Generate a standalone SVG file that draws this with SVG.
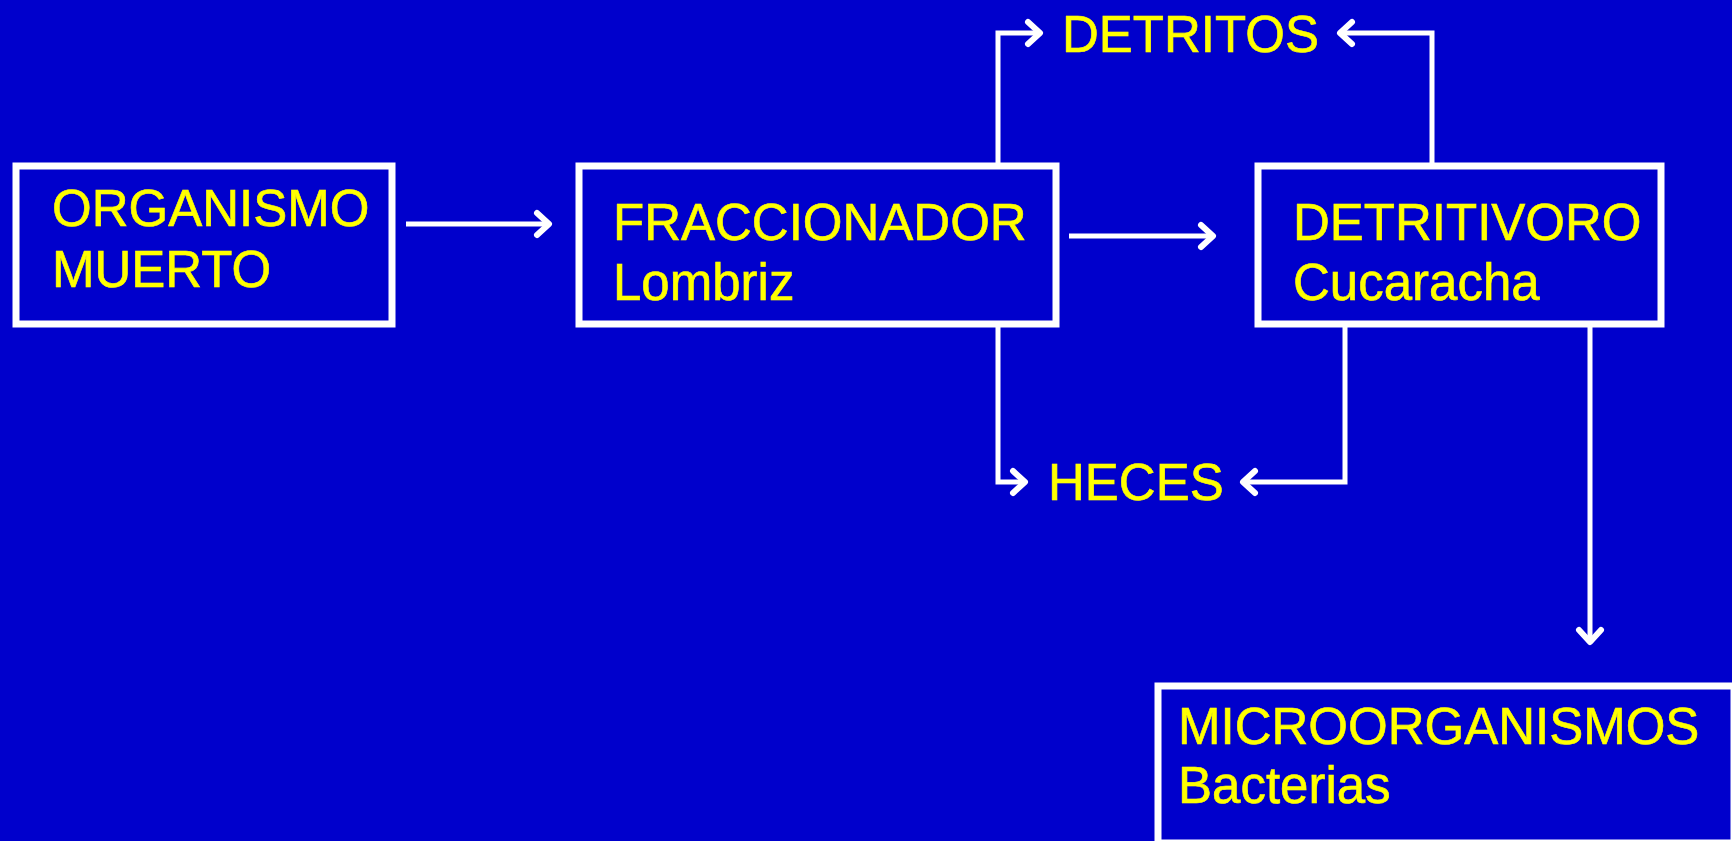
<svg xmlns="http://www.w3.org/2000/svg" width="1732" height="841" viewBox="0 0 1732 841">
<style>
.box{fill:#0000CC;stroke:#FFFFFF;stroke-width:7}
.t{font-family:"Liberation Sans",Arial,sans-serif;font-size:51px;fill:#FFFF00;stroke:#FFFF00;stroke-width:0.6}
.c{fill:none;stroke:#FFFFFF;stroke-width:5;stroke-linejoin:miter}
</style>
<defs>
<marker id="arr" markerUnits="userSpaceOnUse" viewBox="-20 -16 24 32" refX="0" refY="0" markerWidth="24" markerHeight="32" orient="auto" overflow="visible">
<path d="M-12,-11 L0,0 L-12,11" fill="none" stroke="#FFFFFF" stroke-width="6" stroke-linecap="round" stroke-linejoin="round"/>
</marker>
</defs>
<rect width="1732" height="841" fill="#0000CC"/>
<g id="connectors">
<path class="c" d="M406,224 H549" marker-end="url(#arr)"/>
<path class="c" d="M1069,236 H1213" marker-end="url(#arr)"/>
<path class="c" d="M998,166 V33 H1040" marker-end="url(#arr)"/>
<path class="c" d="M1432,166 V33 H1340" marker-end="url(#arr)"/>
<path class="c" d="M998,324 V482 H1025" marker-end="url(#arr)"/>
<path class="c" d="M1345,324 V482 H1243" marker-end="url(#arr)"/>
<path class="c" d="M1590,324 V642" marker-end="url(#arr)"/>
</g>
<g id="organismo">
<rect class="box" x="16" y="166" width="376" height="158"/>
<text class="t" x="52" y="226">ORGANISMO</text>
<text class="t" x="52" y="287">MUERTO</text>
</g>
<g id="fraccionador">
<rect class="box" x="579" y="166" width="477" height="158"/>
<text class="t" x="613" y="240">FRACCIONADOR</text>
<text class="t" x="613" y="300">Lombriz</text>
</g>
<g id="detritivoro">
<rect class="box" x="1258" y="166" width="403" height="158"/>
<text class="t" x="1293" y="240">DETRITIVORO</text>
<text class="t" x="1293" y="300">Cucaracha</text>
</g>
<g id="microorganismos">
<rect class="box" x="1158" y="686" width="576" height="157"/>
<text class="t" x="1178" y="744">MICROORGANISMOS</text>
<text class="t" x="1178" y="803">Bacterias</text>
</g>
<g id="detritos">
<text class="t" x="1062" y="52">DETRITOS</text>
</g>
<g id="heces">
<text class="t" x="1048" y="500">HECES</text>
</g>
</svg>
